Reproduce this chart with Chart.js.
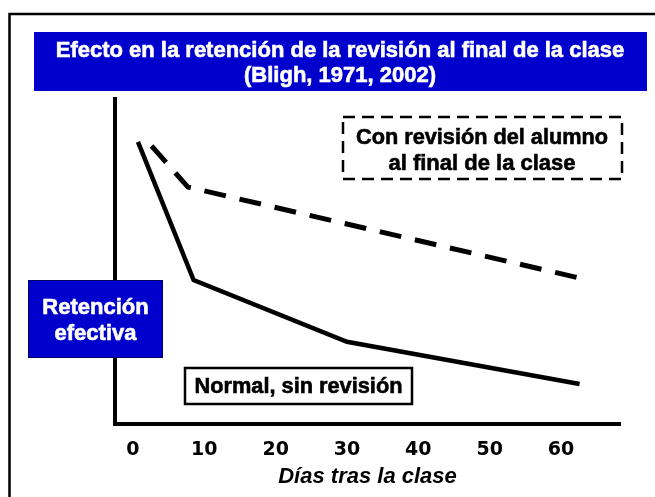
<!DOCTYPE html>
<html>
<head>
<meta charset="utf-8">
<script src="https://cdn.jsdelivr.net/npm/chart.js@4/dist/chart.umd.min.js"></script>
<style>
  body { margin: 0; background: #fff; }
  #wrap { width: 655px; height: 497px; }
</style>
</head>
<body>
<div id="wrap"><canvas id="grafico" width="655" height="497"></canvas></div>
<script>
// datos
const normalDays = [0.7, 8.5, 30, 62.6];
const normalRetention = [86.8, 44.3, 25.3, 12.3];
const revisionDays = [2.6, 7.7, 62.8];
const revisionRetention = [85.6, 72.9, 44.8];
const xTickValues = [0, 10, 20, 30, 40, 50, 60];

const titleLines = ['Efecto en la retención de la revisión al final de la clase', '(Bligh, 1971, 2002)'];
const revisionLabel = ['Con revisión del alumno', 'al final de la clase'];
const normalLabel = 'Normal, sin revisión';
const yLabel = ['Retención', 'efectiva'];
const xLabel = 'Días tras la clase';

const BLUE = '#0000cc';
const TEXT_FONT = 'bold 22px "Liberation Sans", Arial, sans-serif';

function toPoints(xs, ys) {
    return xs.map((x, i) => ({ x: x, y: ys[i] }));
}

// texto un poco mas grueso, como en la imagen
function boldText(ctx, text, x, y, maxWidth) {
    ctx.fillText(text, x, y, maxWidth);
    ctx.strokeText(text, x, y, maxWidth);
}

// marco, titulo y cuadros de texto
const annotations = {
    id: 'annotations',
    beforeDraw(chart) {
        const ctx = chart.ctx;
        ctx.save();
        ctx.fillStyle = '#fff';
        ctx.fillRect(0, 0, chart.width, chart.height);
        ctx.strokeStyle = '#000';
        ctx.lineWidth = 2.5;
        ctx.beginPath();
        ctx.moveTo(655, 14);
        ctx.lineTo(9.5, 14);
        ctx.lineTo(9.5, 497);
        ctx.stroke();
        ctx.restore();
    },
    afterDraw(chart) {
        const ctx = chart.ctx;
        ctx.save();
        ctx.textAlign = 'center';
        ctx.textBaseline = 'alphabetic';
        ctx.font = TEXT_FONT;

        // titulo
        ctx.fillStyle = BLUE;
        ctx.fillRect(34, 32, 613, 59);
        ctx.fillStyle = '#fff';
        ctx.strokeStyle = '#fff';
        ctx.lineWidth = 0.6;
        boldText(ctx, titleLines[0], 340, 57, 572);
        boldText(ctx, titleLines[1], 340, 82);

        // cuadro con revision
        ctx.strokeStyle = '#000';
        ctx.lineWidth = 2.5;
        ctx.setLineDash([12, 7]);
        ctx.strokeRect(343, 117, 279, 62);
        ctx.setLineDash([]);
        ctx.fillStyle = '#000';
        ctx.lineWidth = 0.6;
        boldText(ctx, revisionLabel[0], 482, 144, 252);
        boldText(ctx, revisionLabel[1], 482, 170);

        // cuadro normal
        ctx.fillStyle = '#fff';
        ctx.fillRect(185, 368, 227, 36);
        ctx.lineWidth = 2.5;
        ctx.strokeRect(185, 368, 227, 36);
        ctx.fillStyle = '#000';
        ctx.lineWidth = 0.6;
        boldText(ctx, normalLabel, 298.5, 393, 208);

        // etiqueta eje y
        ctx.fillStyle = BLUE;
        ctx.fillRect(28, 280, 135, 78);
        ctx.lineWidth = 1;
        ctx.strokeStyle = '#000066';
        ctx.strokeRect(28.5, 280.5, 134, 77);
        ctx.fillStyle = '#fff';
        ctx.strokeStyle = '#fff';
        ctx.lineWidth = 0.6;
        boldText(ctx, yLabel[0], 95.5, 313.5);
        boldText(ctx, yLabel[1], 95.5, 340);
        ctx.restore();
    }
};

const ctx = document.getElementById('grafico');
new Chart(ctx, {
    type: 'line',
    data: {
        datasets: [
            {
                label: 'Normal, sin revisión',
                data: toPoints(normalDays, normalRetention),
                borderColor: '#000',
                borderWidth: 4.5,
                pointRadius: 0,
                tension: 0,
                fill: false
            },
            {
                label: 'Con revisión del alumno',
                data: toPoints(revisionDays, revisionRetention),
                borderColor: '#000',
                borderWidth: 5,
                borderDash: [22, 14],
                pointRadius: 0,
                tension: 0,
                fill: false
            }
        ]
    },
    options: {
        responsive: false,
        animation: false,
        layout: { padding: { left: 115, right: 35, top: 99, bottom: 2 } },
        plugins: {
            legend: { display: false },
            tooltip: { enabled: false }
        },
        scales: {
            x: {
                type: 'linear',
                min: -2.52,
                max: 68.27,
                afterBuildTicks(scale) {
                    scale.ticks = xTickValues.map(v => ({ value: v }));
                },
                grid: { display: false, drawTicks: true, tickLength: 17 },
                border: { display: true, color: '#000', width: 4 },
                ticks: {
                    color: '#000',
                    padding: 0,
                    maxRotation: 0,
                    autoSkip: false,
                    font: { family: '"DejaVu Sans"', size: 19, weight: 'bold', lineHeight: 1 }
                },
                title: {
                    display: true,
                    text: xLabel,
                    color: '#000',
                    padding: { top: 6, bottom: 7 },
                    font: { family: '"Liberation Sans", Arial', size: 22, weight: 'bold', style: 'italic', lineHeight: 1 }
                }
            },
            y: {
                min: 0,
                max: 100,
                grid: { display: false, drawTicks: false },
                ticks: { display: false },
                border: { display: true, color: '#000', width: 4 }
            }
        }
    },
    plugins: [annotations]
});
</script>
</body>
</html>
